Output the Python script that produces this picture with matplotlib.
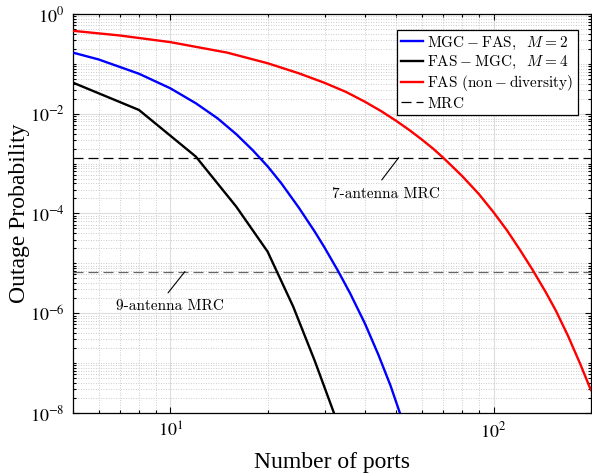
import numpy as np
import matplotlib
matplotlib.use("Agg")
import matplotlib.pyplot as plt
from matplotlib.ticker import FixedLocator, FuncFormatter, NullFormatter
from matplotlib.font_manager import FontProperties

plt.rcParams['font.family'] = ['Liberation Serif', 'DejaVu Serif']
plt.rcParams['mathtext.fontset'] = 'stix'

# ---------------- data ----------------
ports_m2 = [5, 6, 8, 10, 12, 14, 16, 18, 20, 22, 25, 28, 30, 33, 36, 40, 44, 48, 52]
op_m2 = [0.168, 0.1227, 0.0634, 0.0324, 0.0162, 8.1e-3, 3.89e-3, 1.85e-3, 8.83e-4, 4.12e-4,
         1.30e-4, 4.30e-5, 2.08e-5, 7.14e-6, 2.51e-6, 6.24e-7, 1.49e-7, 3.55e-8, 7.8e-9]

ports_m4 = [5, 8, 12, 16, 20, 24, 28, 32, 36]
op_m4 = [4.2e-2, 1.19e-2, 1.38e-3, 1.37e-4, 1.72e-5, 1.36e-6, 1.1e-7, 1.05e-8, 1e-9]

ports_fas = [5, 7, 10, 15, 20, 25, 30, 35, 40, 45, 50, 55, 60, 65, 70, 80, 90, 100, 110, 120,
             132, 145, 156, 170, 185, 200]
op_fas = [0.460, 0.370, 0.273, 0.168, 0.103, 0.0646, 0.0417, 0.0273, 0.0174, 0.0112, 7.2e-3,
          4.67e-3, 3.04e-3, 2.0e-3, 1.30e-3, 5.62e-4, 2.47e-4, 1.06e-4, 4.62e-5, 1.98e-5,
          7.48e-6, 2.66e-6, 1.12e-6, 3.52e-7, 1.0e-7, 2.9e-8]

mrc7 = 1.32e-3
mrc9 = 6.85e-6

labels = [r'$\mathrm{MGC-FAS},\quad\!\! M=2$', r'$\mathrm{FAS-MGC},\quad\!\! M=4$',
          r'$\mathrm{FAS\ (non-diversity)}$', r'$\mathrm{MRC}$']
ann_labels = ['7-antenna MRC', '9-antenna MRC']
y_major = [1e-8, 1e-6, 1e-4, 1e-2, 1e0]

# ---------------- figure ----------------
fig = plt.figure(figsize=(5.92, 4.76), dpi=100)
ax = fig.add_axes([0.1233, 0.1324, 0.8747, 0.8382])

ax.set_xscale('log')
ax.set_yscale('log')
ax.set_xlim(5, 200)
ax.set_ylim(1e-8, 1)

ax.plot(ports_m2, op_m2, color='#0000ff', lw=1.7, label=labels[0], zorder=4)
ax.plot(ports_m4, op_m4, color='black', lw=1.7, label=labels[1], zorder=4)
ax.plot(ports_fas, op_fas, color='#ff0000', lw=1.7, label=labels[2], zorder=4)
ax.axhline(mrc7, color='black', lw=0.9, dashes=(8, 4), label=labels[3], zorder=3)
ax.axhline(mrc9, color='#666666', lw=0.9, dashes=(8, 4), zorder=3)

# ticks
ax.yaxis.set_major_locator(FixedLocator(y_major))
ymin = [k * 10.0 ** e for e in range(-8, 0) for k in range(1, 10) if not (k == 1 and e % 2 == 0)]
ax.yaxis.set_minor_locator(FixedLocator(ymin))
ax.yaxis.set_major_formatter(FuncFormatter(lambda v, p: r'$10^{%d}$' % round(np.log10(v))))
ax.yaxis.set_minor_formatter(NullFormatter())
ax.xaxis.set_major_formatter(FuncFormatter(lambda v, p: r'$10^{%d}$' % round(np.log10(v))))
ax.xaxis.set_minor_formatter(NullFormatter())

ax.tick_params(which='both', direction='in', top=True, right=True, width=0.8)
ax.tick_params(which='major', length=4.5, labelsize=13, pad=6)
ax.tick_params(which='minor', length=2.5)

ax.grid(which='major', color='#dddddd', lw=0.8, ls='-')
ax.grid(which='minor', color='#bbbbbb', lw=0.6, ls=(0, (1, 2)))
ax.set_axisbelow(True)
for s in ax.spines.values():
    s.set_linewidth(0.9)

ax.set_xlabel('Number of ports', fontsize=17, labelpad=8)
ax.set_ylabel('Outage Probability', fontsize=17, labelpad=0)

# annotations
ann_font = dict(fontsize=11, fontfamily='cmr10')
line_kw = dict(arrowstyle='-', lw=0.8, color='black', shrinkA=0, shrinkB=0)
ax.annotate('', xy=(50.9, mrc7), xytext=(45.1, 4.71e-4), arrowprops=line_kw)
ax.text(46.4, 2.47e-4, ann_labels[0], ha='center', va='center', **ann_font)
ax.annotate('', xy=(11.1, mrc9), xytext=(9.84, 2.56e-6), arrowprops=line_kw)
ax.text(9.98, 1.41e-6, ann_labels[1], ha='center', va='center', **ann_font)

leg = ax.legend(loc='upper right', bbox_to_anchor=(0.9755, 0.96), borderaxespad=0,
                prop=FontProperties(size=11, math_fontfamily='cm'),
                fancybox=False, framealpha=1, edgecolor='black',
                handlelength=1.4, handletextpad=0.3, labelspacing=0.15,
                borderpad=0.3)
leg.get_frame().set_linewidth(0.9)
leg.set_zorder(10)

fig.savefig('out.png', dpi=100)
